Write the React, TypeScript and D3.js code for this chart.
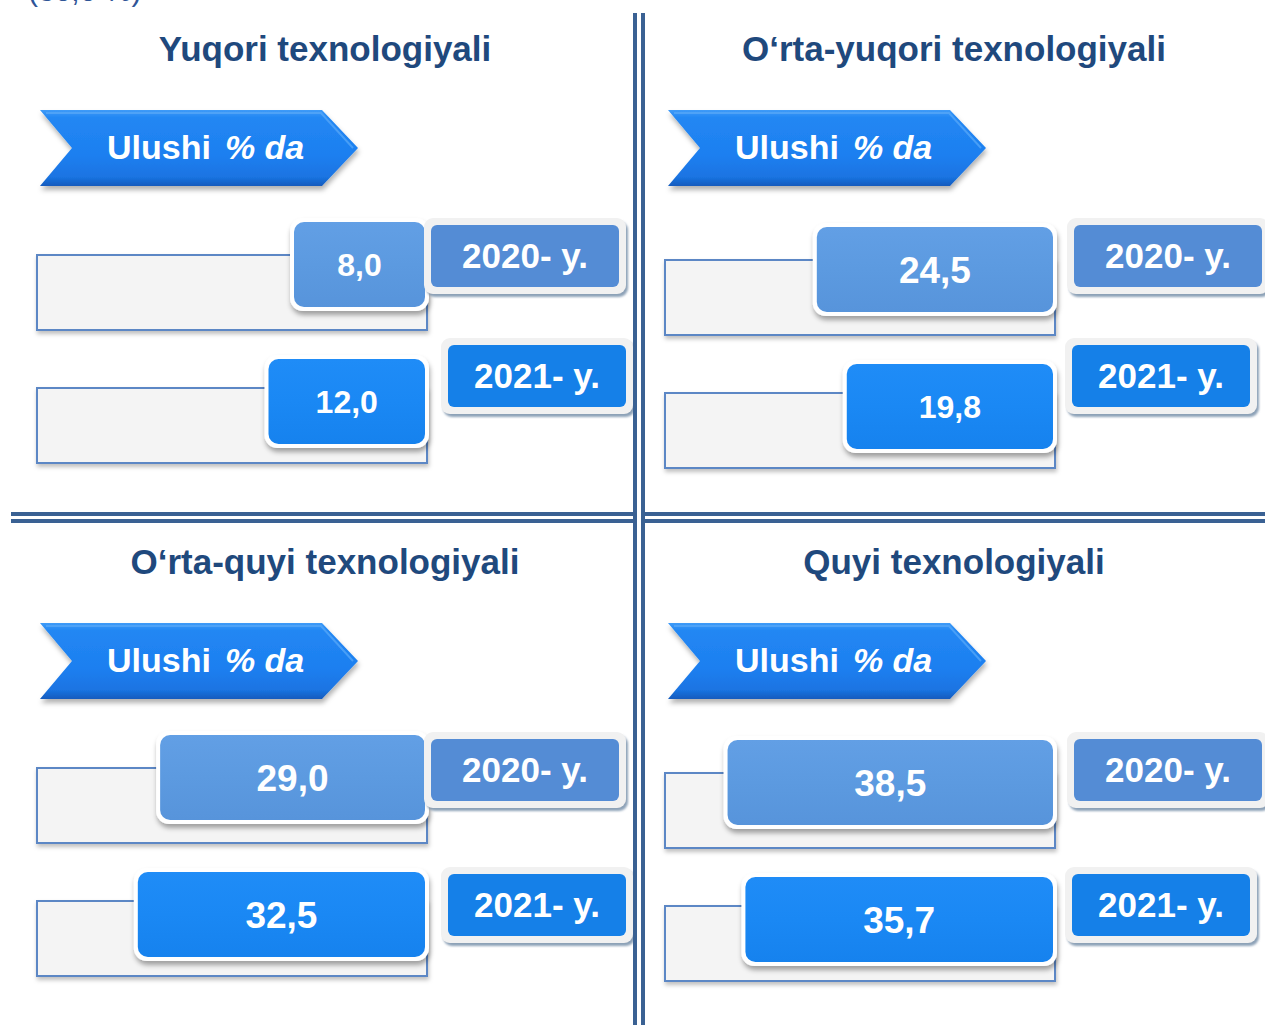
import React, { useEffect } from "react";
import * as d3 from "d3";

// ---- data ----
const panelTitles = [
  "Yuqori texnologiyali",
  "O‘rta-yuqori texnologiyali",
  "O‘rta-quyi texnologiyali",
  "Quyi texnologiyali",
];
const yearLabels = ["2020- y.", "2021- y."];
const values2020 = [8.0, 24.5, 29.0, 38.5];
const values2021 = [12.0, 19.8, 32.5, 35.7];
const bannerWord = "Ulushi";
const bannerUnit = "% da";
const topNote = "(30,0 %)";

// ---- layout ----
const W = 1265;
const H = 1025;
const panelOX = [0, 628, 0, 628];
const panelOY = [0, 0, 513, 513];
const panelCX = [325, 954, 325, 954];
const rowDY = [0, 5, 0, 5];
const labelX2020 = [431, 1074, 431, 1074];
const labelX2021 = [448, 1072, 448, 1072];
const labelY2020 = [225, 225, 739, 739];
const labelY2021 = [345, 345, 874, 874];

const locale = d3.formatLocale({ decimal: ",", thousands: " ", grouping: [3], currency: ["", ""] });
const fmt = locale.format(".1f");

const boxWidth = d3.scaleLinear().domain([0, 40]).range([80, 335]);

const FONT = "'Liberation Sans', Arial, Helvetica, sans-serif";
const DIV = "#3A6193";

function ValueBox({ right, y, value, gid }: any) {
  const w = boxWidth(value);
  const h = 85;
  const x = right - w;
  const fs = w > 220 ? 37 : 32;
  return (
    <g>
      <rect x={x - 4} y={y - 4} width={w + 8} height={h + 8} rx={13} fill="#ffffff" filter="url(#shBox)" />
      <rect x={x} y={y} width={w} height={h} rx={10} fill={`url(#${gid})`} />
      <text x={x + w / 2} y={y + h / 2 + fs * 0.36} textAnchor="middle" fill="#fff" fontFamily={FONT}
        fontWeight="bold" fontSize={fs}>{fmt(value)}</text>
    </g>
  );
}

function YearLabel({ x, y, w, text, fill }: any) {
  const h = 62;
  return (
    <g>
      <rect x={x - 7} y={y - 7} width={w + 14} height={h + 14} rx={9} fill="#f1f1f1" filter="url(#shLabel)" />
      <rect x={x} y={y} width={w} height={h} rx={6} fill={fill} />
      <text x={x + w / 2} y={y + h / 2 + 12} textAnchor="middle" fill="#fff" fontFamily={FONT}
        fontWeight="bold" fontSize={35}>{text}</text>
    </g>
  );
}

function Banner({ ox, oy }: any) {
  const x0 = 40 + ox, x1 = 322 + ox, tip = 358 + ox, notch = 72 + ox;
  const y0 = 110 + oy, y1 = 186 + oy, ym = 148 + oy;
  const path = d3.path();
  path.moveTo(x0, y0);
  path.lineTo(x1, y0);
  path.lineTo(tip, ym);
  path.lineTo(x1, y1);
  path.lineTo(x0, y1);
  path.lineTo(notch, ym);
  path.closePath();
  return (
    <g>
      <path d={path.toString()} fill="url(#gBanner)" filter="url(#shBanner)" />
      <path d={`M${x0 + 6},${y0 + 3}L${x1 - 1},${y0 + 3}L${tip - 5},${ym}`} stroke="#5aaaf8" strokeWidth={2}
        fill="none" opacity={0.7} />
      <text x={107 + ox} y={159 + oy} fill="#fff" fontFamily={FONT} fontWeight="bold" fontSize={34}>
        <tspan>{bannerWord}</tspan>
        <tspan dx={14} fontStyle="italic">{bannerUnit}</tspan>
      </text>
    </g>
  );
}

function Panel({ i }: any) {
  const ox = panelOX[i];
  const oy = panelOY[i];
  const outX = 37 + ox;
  const outW = 390;
  const outH = 75;
  const r1 = 255 + oy + rowDY[i];
  const r2 = 388 + oy + rowDY[i];
  const right = outX + outW - 2;
  return (
    <g>
      <text x={panelCX[i]} y={61 + oy} textAnchor="middle" fill="#1F497D" fontFamily={FONT} fontWeight="bold"
        fontSize={35}>{panelTitles[i]}</text>
      <Banner ox={ox} oy={oy} />
      <rect x={outX} y={r1} width={outW} height={outH} fill="#f4f4f4" stroke="#5b87c5" strokeWidth={2}
        filter="url(#shOut)" />
      <ValueBox right={right} y={r1 - 33} value={values2020[i]} gid="g2020" />
      <YearLabel x={labelX2020[i]} y={labelY2020[i]} w={188} text={yearLabels[0]} fill="#548cd5" />
      <rect x={outX} y={r2} width={outW} height={outH} fill="#f4f4f4" stroke="#5b87c5" strokeWidth={2}
        filter="url(#shOut)" />
      <ValueBox right={right} y={r2 - 29} value={values2021[i]} gid="g2021" />
      <YearLabel x={labelX2021[i]} y={labelY2021[i]} w={178} text={yearLabels[1]} fill="#1580e8" />
    </g>
  );
}

export default function App() {
  useEffect(() => {
    document.body.style.margin = "0";
  }, []);
  return (
    <svg width={W} height={H} viewBox={`0 0 ${W} ${H}`} style={{ display: "block", position: "absolute", left: 0, top: 0, background: "#fff" }}>
      <defs>
        <linearGradient id="gBanner" x1="0" y1="0" x2="0" y2="1">
          <stop offset="0" stopColor="#3f9bf7" />
          <stop offset="0.1" stopColor="#2287f3" />
          <stop offset="0.6" stopColor="#1d7ff0" />
          <stop offset="0.88" stopColor="#1a74e2" />
          <stop offset="1" stopColor="#135bbd" />
        </linearGradient>
        <linearGradient id="g2020" x1="0" y1="0" x2="0" y2="1">
          <stop offset="0" stopColor="#629fe5" />
          <stop offset="0.5" stopColor="#5c9ae0" />
          <stop offset="1" stopColor="#5794db" />
        </linearGradient>
        <linearGradient id="g2021" x1="0" y1="0" x2="0" y2="1">
          <stop offset="0" stopColor="#1f8cf7" />
          <stop offset="0.5" stopColor="#1a88f4" />
          <stop offset="1" stopColor="#1682ee" />
        </linearGradient>
        <filter id="shBox" x="-10%" y="-10%" width="125%" height="135%">
          <feDropShadow dx="1" dy="4" stdDeviation="2.5" floodColor="#000" floodOpacity="0.35" />
        </filter>
        <filter id="shLabel" x="-10%" y="-10%" width="125%" height="135%">
          <feDropShadow dx="2" dy="3" stdDeviation="0.8" floodColor="#6f8aa5" floodOpacity="0.8" />
        </filter>
        <filter id="shBanner" x="-10%" y="-10%" width="125%" height="140%">
          <feDropShadow dx="1" dy="4" stdDeviation="2.5" floodColor="#000" floodOpacity="0.3" />
        </filter>
        <filter id="shOut" x="-5%" y="-10%" width="115%" height="140%">
          <feDropShadow dx="1" dy="3" stdDeviation="2" floodColor="#000" floodOpacity="0.25" />
        </filter>
      </defs>

      <text x={28} y={1} fill="#2F5597" fontFamily={FONT} fontSize={30}>{topNote}</text>

      {panelTitles.map((_, i) => <Panel key={i} i={i} />)}

      {/* dividers */}
      <rect x={11} y={512} width={622} height={4} fill={DIV} />
      <rect x={11} y={519} width={622} height={4} fill={DIV} />
      <rect x={645} y={512} width={W - 645} height={4} fill={DIV} />
      <rect x={645} y={519} width={W - 645} height={4} fill={DIV} />
      <rect x={633} y={13} width={4} height={H - 13} fill={DIV} />
      <rect x={641} y={13} width={4} height={H - 13} fill={DIV} />
    </svg>
  );
}
